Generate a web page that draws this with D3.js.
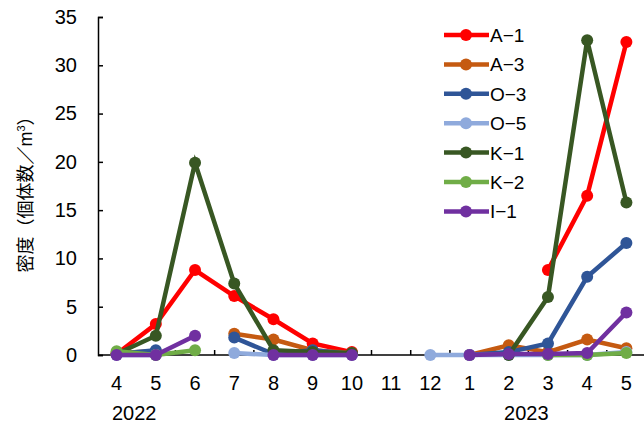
<!DOCTYPE html>
<html>
<head>
<meta charset="utf-8">
<script src="https://cdn.jsdelivr.net/npm/d3@7"></script>
<style>
  body { margin: 0; background: #fff; }
  text { font-family: "Liberation Sans", "Noto Sans CJK JP", sans-serif; fill: #000; }
</style>
</head>
<body>
<svg id="chart" width="644" height="427"></svg>
<script>
// months along the x axis (Apr 2022 - May 2023)
var months = ['4', '5', '6', '7', '8', '9', '10', '11', '12', '1', '2', '3', '4', '5'];
var years = [{ label: '2022', at: 0 }, { label: '2023', at: 10 }];
var yTicks = [0, 5, 10, 15, 20, 25, 30, 35];

var names = ['A-1', 'A-3', 'O-3', 'O-5', 'K-1', 'K-2', 'I-1'];
var colors = ['#ff0000', '#c55a11', '#2f5597', '#8faadc', '#385723', '#70ad47', '#7030a0'];

// density values, null = no sample
var a1 = [0.1, 3.2, 8.8, 6.1, 3.7, 1.2, 0.3, null, null, null, null, 8.8, 16.5, 32.4];
var a3 = [0.2, 0.4, null, 2.2, 1.6, 0.5, 0.2, null, null, 0, 1.0, 0.3, 1.6, 0.7];
var o3 = [0.1, 0.5, null, 1.8, 0.1, 0.5, 0.1, null, null, 0, 0.3, 1.2, 8.1, 11.6];
var o5 = [0, 0, null, 0.2, 0, 0, 0, null, 0, 0, 0, 0, 0, 0.3];
var k1 = [0.1, 2.0, 19.9, 7.4, 0.5, 0.3, 0.2, null, null, null, 0, 6.0, 32.6, 15.8];
var k2 = [0.4, 0, 0.5, null, null, null, null, null, null, null, null, 0, 0, 0.2];
var i1 = [0, 0, 2.0, null, 0, 0, 0, null, null, 0, 0.1, 0.1, 0.2, 4.4];
var series = [a1, a3, o3, o5, k1, k2, i1];

var svg = d3.select('#chart');
var margin = { left: 98, right: 0, top: 17, bottom: 72 };
var width = 644 - margin.left - margin.right;
var height = 427 - margin.top - margin.bottom;

var g = svg.append('g')
    .attr('transform', 'translate(' + margin.left + ',' + margin.top + ')');

var x = d3.scaleBand()
    .domain(d3.range(months.length))
    .range([-1, 548]);

var y = d3.scaleLinear()
    .domain([0, 35])
    .range([height, 0]);

// y axis, ticks pointing inward
var yAxis = g.append('g')
    .call(d3.axisLeft(y).tickValues(yTicks).tickSize(-5).tickPadding(21));
yAxis.select('.domain').attr('stroke', '#000').attr('stroke-width', 1.5);
yAxis.selectAll('.tick line').attr('stroke', '#000').attr('stroke-width', 1.5);
yAxis.selectAll('text').style('font-size', '20px').attr('fill', '#000');

// x axis with ticks between the months
var xAxis = g.append('g')
    .attr('transform', 'translate(0,' + height + ')');
xAxis.append('line')
    .attr('x1', 0).attr('x2', width)
    .attr('stroke', '#000').attr('stroke-width', 1.5);
xAxis.selectAll('.mtick')
    .data(d3.range(1, months.length))
    .enter().append('line')
    .attr('x1', function(d) { return x(d); })
    .attr('x2', function(d) { return x(d); })
    .attr('y1', 0).attr('y2', -5)
    .attr('stroke', '#000').attr('stroke-width', 1.5);
xAxis.selectAll('.mlabel')
    .data(months)
    .enter().append('text')
    .attr('x', function(d, i) { return x(i) + x.bandwidth() / 2; })
    .attr('y', 35)
    .attr('text-anchor', 'middle')
    .style('font-size', '20px')
    .text(function(d) { return d; });
xAxis.selectAll('.ylabel')
    .data(years)
    .enter().append('text')
    .attr('x', function(d) { return x(d.at) + x.bandwidth() - 2; })
    .attr('y', 65)
    .attr('text-anchor', 'middle')
    .style('font-size', '20px')
    .text(function(d) { return d.label; });

// y axis title
svg.append('text')
    .attr('transform', 'translate(32,' + (margin.top + height / 2 + 4) + ') rotate(-90)')
    .attr('text-anchor', 'middle')
    .style('font-size', '18px')
    .html('密度（個体数／m<tspan dy="-7" style="font-size:11px">3</tspan><tspan dy="7">）</tspan>');

var line = d3.line()
    .defined(function(d) { return d != null; })
    .x(function(d, i) { return x(i) + x.bandwidth() / 2; })
    .y(function(d) { return y(d); });

series.forEach(function(vals, k) {
    var sg = g.append('g');
    sg.append('path')
        .datum(vals)
        .attr('fill', 'none')
        .attr('stroke', colors[k])
        .attr('stroke-width', 4.5)
        .attr('d', line);
    sg.selectAll('circle')
        .data(vals.map(function(v, i) { return { v: v, i: i }; }).filter(function(d) { return d.v != null; }))
        .enter().append('circle')
        .attr('cx', function(d) { return x(d.i) + x.bandwidth() / 2; })
        .attr('cy', function(d) { return y(d.v); })
        .attr('r', 6)
        .attr('fill', colors[k]);
});

// legend
var legend = svg.append('g').attr('transform', 'translate(444,35)');
names.forEach(function(n, k) {
    var row = legend.append('g').attr('transform', 'translate(0,' + k * 29.4 + ')');
    row.append('line')
        .attr('x1', 0).attr('x2', 45)
        .attr('stroke', colors[k]).attr('stroke-width', 4.5);
    row.append('circle').attr('cx', 22).attr('r', 6).attr('fill', colors[k]);
    row.append('text')
        .attr('x', 46).attr('y', 7)
        .style('font-size', '19px')
        .text(n.replace('-', '−'));
});
</script>
</body>
</html>
